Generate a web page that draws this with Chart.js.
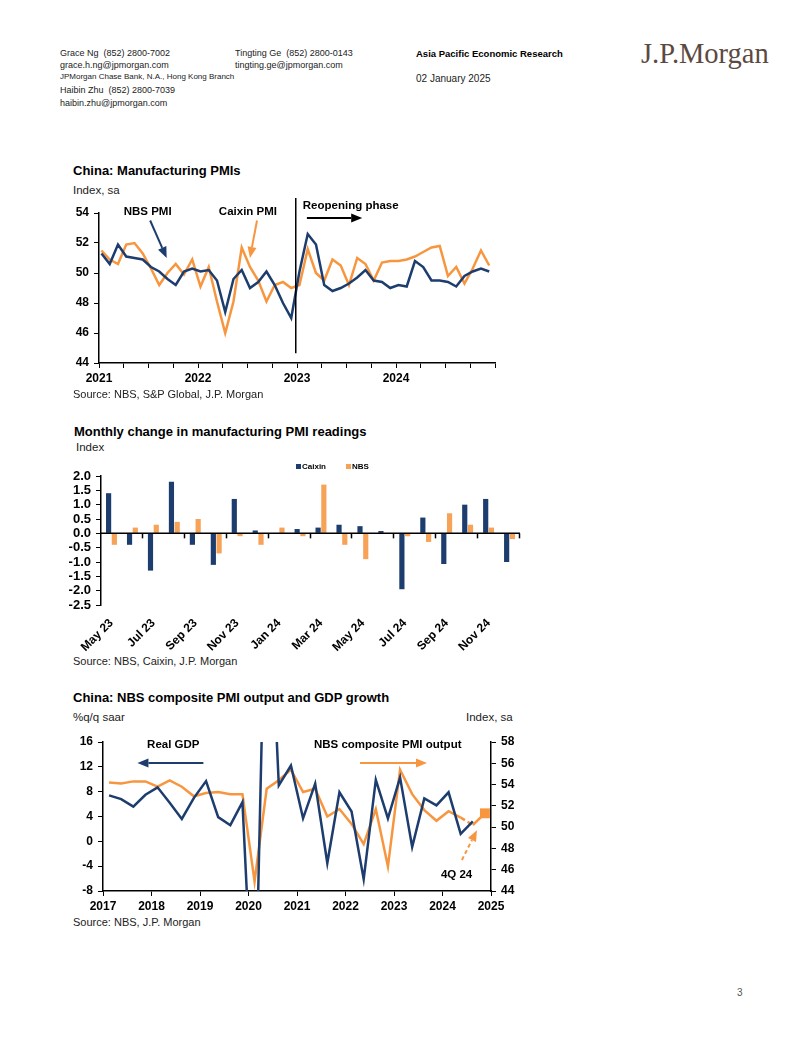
<!DOCTYPE html>
<html>
<head>
<meta charset="utf-8">
<script src="https://cdn.jsdelivr.net/npm/chart.js@4.4.1/dist/chart.umd.min.js"></script>
<style>
body { margin: 0; background: #fff; }
#page { position: relative; width: 802px; height: 1037px; overflow: hidden; font-family: "Liberation Sans", Arial, sans-serif; color: #222; }
.t { position: absolute; white-space: nowrap; line-height: 1; }
.ttl { font-size: 13px; font-weight: bold; color: #000; }
.sub { font-size: 11.5px; color: #222; }
.src { font-size: 11px; color: #222; }
canvas { position: absolute; }
.sq { position: absolute; width: 5px; height: 5px; }
</style>
</head>
<body>
<div id="page">
  <div class="t" style="left:60px;top:48.5px;font-size:9px">Grace Ng&nbsp; (852) 2800-7002</div>
  <div class="t" style="left:60px;top:60.5px;font-size:9px">grace.h.ng@jpmorgan.com</div>
  <div class="t" style="left:60px;top:73px;font-size:8px">JPMorgan Chase Bank, N.A., Hong Kong Branch</div>
  <div class="t" style="left:60px;top:85.5px;font-size:9px">Haibin Zhu&nbsp; (852) 2800-7039</div>
  <div class="t" style="left:60px;top:98.5px;font-size:9px">haibin.zhu@jpmorgan.com</div>
  <div class="t" style="left:235px;top:48.5px;font-size:9px">Tingting Ge&nbsp; (852) 2800-0143</div>
  <div class="t" style="left:235px;top:60.5px;font-size:9px">tingting.ge@jpmorgan.com</div>
  <div class="t" style="left:416px;top:48.5px;font-size:9.5px;font-weight:bold;color:#000">Asia Pacific Economic Research</div>
  <div class="t" style="left:416px;top:74px;font-size:10px">02 January 2025</div>
  <div class="t" style="left:641px;top:40px;font-size:28.5px;font-family:'Liberation Serif','DejaVu Serif',serif;color:#5a4a42">J.P.Morgan</div>

  <div class="t ttl" style="left:73px;top:163.6px">China: Manufacturing PMIs</div>
  <div class="t sub" style="left:73px;top:185.4px">Index, sa</div>
  <canvas id="c1" width="450" height="200" style="left:60px;top:190px"></canvas>
  <div class="t src" style="left:73px;top:388.6px">Source: NBS, S&amp;P Global, J.P. Morgan</div>

  <div class="t ttl" style="left:74px;top:424.6px">Monthly change in manufacturing PMI readings</div>
  <div class="t sub" style="left:76px;top:442.4px">Index</div>
  <canvas id="c2" width="470" height="200" style="left:60px;top:455px"></canvas>
  <div class="sq" style="left:296px;top:464px;background:#1c3d6e"></div>
  <div class="t" style="left:302px;top:462.5px;font-size:8px;font-weight:bold;color:#000">Caixin</div>
  <div class="sq" style="left:346px;top:464px;background:#f6a257"></div>
  <div class="t" style="left:352px;top:462.5px;font-size:8px;font-weight:bold;color:#000">NBS</div>
  <div class="t src" style="left:73px;top:655.6px">Source: NBS, Caixin, J.P. Morgan</div>

  <div class="t ttl" style="left:73px;top:690.6px">China: NBS composite PMI output and GDP growth</div>
  <div class="t sub" style="left:73px;top:712.4px">%q/q saar</div>
  <div class="t sub" style="left:466px;top:712.4px">Index, sa</div>
  <canvas id="c3" width="470" height="190" style="left:60px;top:725px"></canvas>
  <div class="t src" style="left:73px;top:916.6px">Source: NBS, J.P. Morgan</div>

  <div class="t" style="left:737px;top:988px;font-size:10px;color:#555">3</div>
</div>

<script>
// --- chart 1: manufacturing PMIs, monthly Jan 21 - Dec 24
const pmiMonths = [
  'Jan 21','Feb 21','Mar 21','Apr 21','May 21','Jun 21','Jul 21','Aug 21','Sep 21','Oct 21','Nov 21','Dec 21',
  'Jan 22','Feb 22','Mar 22','Apr 22','May 22','Jun 22','Jul 22','Aug 22','Sep 22','Oct 22','Nov 22','Dec 22',
  'Jan 23','Feb 23','Mar 23','Apr 23','May 23','Jun 23','Jul 23','Aug 23','Sep 23','Oct 23','Nov 23','Dec 23',
  'Jan 24','Feb 24','Mar 24','Apr 24','May 24','Jun 24','Jul 24','Aug 24','Sep 24','Oct 24','Nov 24','Dec 24'
];
const nbsPmi = [
  51.3, 50.6, 51.9, 51.1, 51.0, 50.9, 50.4, 50.1, 49.6, 49.2, 50.1, 50.3,
  50.1, 50.2, 49.5, 47.4, 49.6, 50.2, 49.0, 49.4, 50.1, 49.2, 48.0, 47.0,
  50.1, 52.6, 51.9, 49.2, 48.8, 49.0, 49.3, 49.7, 50.2, 49.5, 49.4, 49.0,
  49.2, 49.1, 50.8, 50.4, 49.5, 49.5, 49.4, 49.1, 49.8, 50.1, 50.3, 50.1
];
const caixinPmi = [
  51.5, 50.9, 50.6, 51.9, 52.0, 51.3, 50.3, 49.2, 50.0, 50.6, 49.9, 50.9,
  49.1, 50.4, 48.1, 46.0, 48.1, 51.7, 50.4, 49.5, 48.1, 49.2, 49.4, 49.0,
  49.2, 51.6, 50.0, 49.5, 50.9, 50.5, 49.2, 51.0, 50.6, 49.5, 50.7, 50.8,
  50.8, 50.9, 51.1, 51.4, 51.7, 51.8, 49.8, 50.4, 49.3, 50.3, 51.5, 50.5
];
const pmiYearTicks = ['2021', '2022', '2023', '2024'];

// --- chart 2: monthly change
const changeMonths = ['May 23','Jun 23','Jul 23','Aug 23','Sep 23','Oct 23','Nov 23','Dec 23','Jan 24','Feb 24',
  'Mar 24','Apr 24','May 24','Jun 24','Jul 24','Aug 24','Sep 24','Oct 24','Nov 24','Dec 24'];
const caixinChange = [1.4, -0.4, -1.3, 1.8, -0.4, -1.1, 1.2, 0.1, 0.0, 0.15, 0.2, 0.3, 0.25, 0.08, -1.95, 0.55, -1.07, 1.0, 1.2, -1.0];
const nbsChange = [-0.4, 0.2, 0.3, 0.4, 0.5, -0.7, -0.1, -0.4, 0.2, -0.1, 1.7, -0.4, -0.9, 0.0, -0.1, -0.3, 0.7, 0.3, 0.2, -0.2];

// --- chart 3: GDP and composite PMI, quarterly
const gdpQuarters = ['1Q17','2Q17','3Q17','4Q17','1Q18','2Q18','3Q18','4Q18','1Q19','2Q19','3Q19','4Q19',
  '1Q20','2Q20','3Q20','4Q20','1Q21','2Q21','3Q21','4Q21','1Q22','2Q22','3Q22','4Q22',
  '1Q23','2Q23','3Q23','4Q23','1Q24','2Q24','3Q24','4Q24'];
const realGdp = [7.4, 6.8, 5.6, 7.5, 8.7, 6.2, 3.6, 7.0, 9.7, 3.9, 2.6, 6.3,
  -33.8, 52.0, 9.0, 12.2, 3.7, 9.3, -3.5, 7.9, 4.8, -6.1, 9.9, 3.7,
  10.3, -0.9, 6.9, 5.8, 7.9, 1.2, 3.2, null];
const compositePmi = [54.2, 54.1, 54.3, 54.3, 53.8, 54.4, 53.8, 52.9, 53.2, 53.3, 53.1, 53.1,
  44.9, 53.6, 54.4, 55.4, 53.3, 53.6, 51.0, 51.7, 50.3, 48.4, 51.7, 46.3,
  55.4, 53.1, 51.6, 50.6, 51.5, 50.9, 50.2, 51.3];
const gdpYearTicks = ['2017','2018','2019','2020','2021','2022','2023','2024','2025'];

const BLUE = '#1c3d6e';
const ORANGE = '#f7963f';
const BAR_ORANGE = '#f6a257';
const FONT = '"Liberation Sans", Arial, sans-serif';

Chart.defaults.font.family = FONT;
Chart.defaults.color = '#000';
Chart.defaults.animation = false;
Chart.defaults.plugins.legend.display = false;
Chart.defaults.plugins.tooltip.enabled = false;

const tickGrid = { drawOnChartArea: false, drawTicks: true, tickLength: 5, color: '#000', lineWidth: 1 };
const axisBorder = { display: true, color: '#000', width: 1.5 };

function arrow(ctx, x1, y1, x2, y2, color, dash) {
  const a = Math.atan2(y2 - y1, x2 - x1), head = 11, half = 4.5;
  const bx = x2 - head * Math.cos(a), by = y2 - head * Math.sin(a);
  ctx.save();
  ctx.strokeStyle = color;
  ctx.fillStyle = color;
  ctx.lineWidth = 2;
  if (dash) ctx.setLineDash(dash);
  ctx.beginPath();
  ctx.moveTo(x1, y1);
  ctx.lineTo(bx, by);
  ctx.stroke();
  ctx.setLineDash([]);
  ctx.beginPath();
  ctx.moveTo(x2, y2);
  ctx.lineTo(bx + half * Math.sin(a), by - half * Math.cos(a));
  ctx.lineTo(bx - half * Math.sin(a), by + half * Math.cos(a));
  ctx.closePath();
  ctx.fill();
  ctx.restore();
}

function label(ctx, text, x, y, align) {
  ctx.save();
  ctx.font = 'bold 11.5px ' + FONT;
  ctx.fillStyle = '#000';
  ctx.textAlign = align || 'center';
  ctx.textBaseline = 'middle';
  ctx.fillText(text, x, y);
  ctx.restore();
}

// chart 1
const reopenAt = 23.85;
new Chart(document.getElementById('c1'), {
  type: 'line',
  data: {
    datasets: [
      { label: 'NBS PMI', data: nbsPmi.map((v, i) => ({ x: i + 0.3, y: v })), borderColor: BLUE, borderWidth: 2.5, pointRadius: 0, tension: 0 },
      { label: 'Caixin PMI', data: caixinPmi.map((v, i) => ({ x: i + 0.3, y: v })), borderColor: ORANGE, borderWidth: 2.5, pointRadius: 0, tension: 0 }
    ]
  },
  options: {
    responsive: false,
    layout: { padding: { top: 23, right: 15, left: 0, bottom: 0 } },
    scales: {
      x: {
        type: 'linear', min: 0, max: pmiMonths.length,
        afterFit: s => { s.height = 27; },
        ticks: {
          stepSize: 3, autoSkip: false, maxRotation: 0, padding: 3,
          font: { size: 12, weight: 'bold' },
          callback: v => (v % 12 === 0 && v / 12 < pmiYearTicks.length) ? pmiYearTicks[v / 12] : ''
        },
        grid: tickGrid, border: axisBorder
      },
      y: {
        min: 44, max: 54,
        afterFit: s => { s.width = 39; },
        ticks: { stepSize: 2, autoSkip: false, padding: 5, font: { size: 12, weight: 'bold' } },
        grid: tickGrid, border: axisBorder
      }
    }
  },
  plugins: [{
    id: 'notes1',
    afterDatasetsDraw(chart) {
      const { ctx, chartArea, scales: { x, y } } = chart;
      const rx = x.getPixelForValue(reopenAt);
      ctx.save();
      ctx.strokeStyle = '#000';
      ctx.lineWidth = 1.5;
      ctx.beginPath();
      ctx.moveTo(rx, chartArea.top - 15);
      ctx.lineTo(rx, y.getPixelForValue(44.65));
      ctx.stroke();
      ctx.restore();
      label(ctx, 'NBS PMI', x.getPixelForValue(5.9), y.getPixelForValue(54.1));
      arrow(ctx, x.getPixelForValue(6.2), y.getPixelForValue(53.5), x.getPixelForValue(8.2), y.getPixelForValue(51.0), BLUE);
      label(ctx, 'Caixin PMI', x.getPixelForValue(18.05), y.getPixelForValue(54.1));
      arrow(ctx, x.getPixelForValue(19.15), y.getPixelForValue(53.5), x.getPixelForValue(18.3), y.getPixelForValue(51.0), ORANGE);
      label(ctx, 'Reopening phase', x.getPixelForValue(24.7), y.getPixelForValue(54.45), 'left');
      arrow(ctx, x.getPixelForValue(25.2), y.getPixelForValue(53.67), x.getPixelForValue(31.9), y.getPixelForValue(53.67), '#000');
    }
  }]
});

// chart 2
new Chart(document.getElementById('c2'), {
  type: 'bar',
  data: {
    labels: changeMonths,
    datasets: [
      { label: 'Caixin', data: caixinChange, backgroundColor: BLUE, categoryPercentage: 0.55, barPercentage: 0.9 },
      { label: 'NBS', data: nbsChange, backgroundColor: BAR_ORANGE, categoryPercentage: 0.55, barPercentage: 0.9 }
    ]
  },
  options: {
    responsive: false,
    layout: { padding: { top: 21, right: 10, left: 0, bottom: 0 } },
    scales: {
      x: {
        offset: true,
        afterFit: s => { s.height = 50; },
        ticks: {
          autoSkip: false, minRotation: 45, maxRotation: 45, padding: 3,
          font: { size: 12, weight: 'bold' },
          callback: function (v, i) { return i % 2 === 0 ? this.getLabelForValue(v) : ''; }
        },
        grid: { display: false }, border: { display: false }
      },
      y: {
        min: -2.5, max: 2.0,
        afterFit: s => { s.width = 41; },
        ticks: { stepSize: 0.5, autoSkip: false, padding: 5, font: { size: 13, weight: 'bold' }, callback: v => v.toFixed(1) },
        grid: tickGrid, border: axisBorder
      }
    }
  },
  plugins: [{
    id: 'zeroAxis',
    afterDatasetsDraw(chart) {
      const { ctx, chartArea, scales: { x, y } } = chart;
      const y0 = y.getPixelForValue(0);
      const step = (chartArea.right - chartArea.left) / changeMonths.length;
      ctx.save();
      ctx.strokeStyle = '#000';
      ctx.lineWidth = 1.5;
      ctx.beginPath();
      ctx.moveTo(chartArea.left, y0);
      ctx.lineTo(chartArea.right, y0);
      ctx.stroke();
      for (let i = 2; i <= changeMonths.length; i += 2) {
        const tx = Math.round(chartArea.left + i * step) - 0.5;
        ctx.beginPath();
        ctx.moveTo(tx, y0);
        ctx.lineTo(tx, y0 + 5);
        ctx.stroke();
      }
      ctx.restore();
    }
  }]
});

// chart 3
const firstYear = 2017;
const qx = i => firstYear + (i + 0.5) / 4;
const lastQ = gdpQuarters.length - 1;
new Chart(document.getElementById('c3'), {
  type: 'line',
  data: {
    datasets: [
      { label: 'Real GDP', yAxisID: 'y', data: realGdp.map((v, i) => ({ x: qx(i), y: v })), borderColor: BLUE, borderWidth: 2.5, pointRadius: 0, tension: 0 },
      {
        label: 'NBS composite PMI output', yAxisID: 'y1',
        data: compositePmi.map((v, i) => ({ x: qx(i), y: v })),
        borderColor: ORANGE, backgroundColor: ORANGE, borderWidth: 2.5, tension: 0,
        pointStyle: 'rect', pointBorderWidth: 0,
        pointRadius: c => c.dataIndex === lastQ ? 7 : 0,
        segment: { borderDash: c => c.p0DataIndex === lastQ - 2 ? [5, 3] : undefined }
      }
    ]
  },
  options: {
    responsive: false,
    layout: { padding: { top: 17, right: 0, left: 0, bottom: 0 } },
    scales: {
      x: {
        type: 'linear', min: firstYear, max: firstYear + gdpYearTicks.length - 1,
        afterFit: s => { s.height = 24; },
        ticks: { stepSize: 1, autoSkip: false, maxRotation: 0, padding: 3, font: { size: 12, weight: 'bold' }, callback: (v, i) => gdpYearTicks[i] },
        grid: tickGrid, border: axisBorder
      },
      y: {
        min: -8, max: 16,
        afterFit: s => { s.width = 43; },
        ticks: { stepSize: 4, autoSkip: false, padding: 5, font: { size: 12, weight: 'bold' } },
        grid: tickGrid, border: axisBorder
      },
      y1: {
        position: 'right', min: 44, max: 58,
        afterFit: s => { s.width = 39; },
        ticks: { stepSize: 2, autoSkip: false, padding: 5, font: { size: 12, weight: 'bold' } },
        grid: tickGrid, border: axisBorder
      }
    }
  },
  plugins: [{
    id: 'notes3',
    afterDatasetsDraw(chart) {
      const { ctx, scales: { x, y } } = chart;
      label(ctx, 'Real GDP', x.getPixelForValue(2018.45), y.getPixelForValue(15.5));
      arrow(ctx, x.getPixelForValue(2019.07), y.getPixelForValue(12.6), x.getPixelForValue(2017.71), y.getPixelForValue(12.6), BLUE);
      label(ctx, 'NBS composite PMI output', x.getPixelForValue(2022.87), y.getPixelForValue(15.5));
      arrow(ctx, x.getPixelForValue(2022.3), y.getPixelForValue(12.6), x.getPixelForValue(2023.68), y.getPixelForValue(12.6), ORANGE);
      label(ctx, '4Q 24', x.getPixelForValue(2024.29), y.getPixelForValue(-5.4));
      arrow(ctx, x.getPixelForValue(2024.4), y.getPixelForValue(-3.0), x.getPixelForValue(2024.71), y.getPixelForValue(1.8), ORANGE, [4, 3]);
    }
  }]
});
</script>
</body>
</html>
